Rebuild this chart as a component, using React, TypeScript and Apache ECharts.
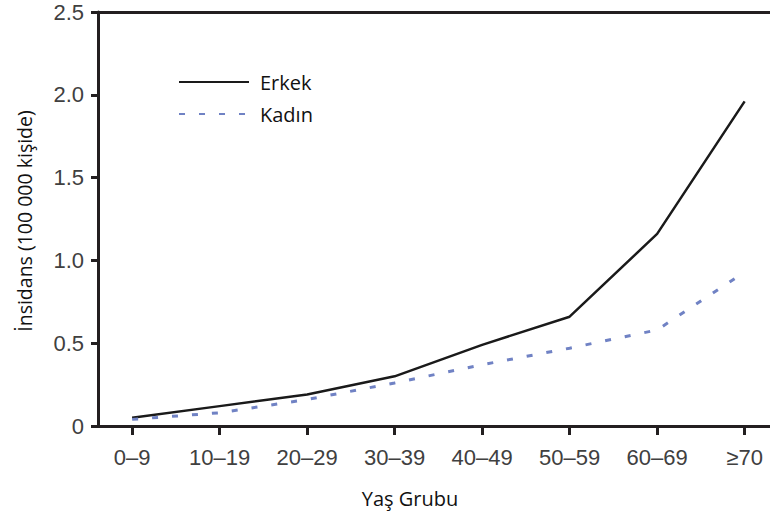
import React, { useEffect, useRef } from "react";
import * as echarts from "echarts";

const categories = ["0–9", "10–19", "20–29", "30–39", "40–49", "50–59", "60–69", "≥70"];
const erkek = [0.05, 0.12, 0.19, 0.3, 0.49, 0.66, 1.16, 1.96];
const kadin = [0.04, 0.08, 0.16, 0.26, 0.37, 0.47, 0.58, 0.93];
const yTicks = [0, 0.5, 1.0, 1.5, 2.0, 2.5];

export default function App() {
  const ref = useRef<HTMLDivElement>(null);
  useEffect(() => {
    if (!ref.current) return;
    const chart = echarts.init(ref.current, undefined, { renderer: "svg" });
    const axisColor = "#231f20";
    const labelColor = "#404040";
    const idx = categories.map((_, i) => i);
    chart.setOption({
      animation: false,
      backgroundColor: "#ffffff",
      grid: { left: 98, right: 0, top: 12, bottom: 92, containLabel: false },
      legend: {
        orient: "vertical",
        left: 173,
        top: 67,
        itemWidth: 70,
        itemHeight: 14,
        itemGap: 12,
        itemStyle: { opacity: 0 },
        textStyle: { fontFamily: "Open Sans", fontSize: 20, color: "#111", padding: [0, 0, 0, 6] },
        data: ["Erkek", "Kadın"],
      },
      xAxis: [
        {
          type: "value",
          min: -0.39,
          max: 7.29,
          splitLine: { show: false },
          axisLine: { show: true, onZero: false, lineStyle: { color: axisColor, width: 3 } },
          axisTick: { show: true, customValues: idx, length: 9, lineStyle: { color: axisColor, width: 3 } },
          axisLabel: {
            customValues: idx,
            formatter: (v: number) => categories[Math.round(v)] ?? "",
            fontFamily: "Liberation Sans",
            fontSize: 22,
            color: labelColor,
            margin: 20,
          },
        },
        {
          type: "value",
          position: "top",
          min: -0.39,
          max: 7.29,
          splitLine: { show: false },
          axisLine: { show: true, onZero: false, lineStyle: { color: axisColor, width: 3 } },
          axisTick: { show: false },
          axisLabel: { show: false },
        },
      ],
      yAxis: {
        type: "value",
        min: 0,
        max: 2.5,
        interval: 0.5,
        splitLine: { show: false },
        axisLine: { show: true, onZero: false, lineStyle: { color: axisColor, width: 3 } },
        axisTick: { show: true, length: 7, lineStyle: { color: axisColor, width: 3 } },
        axisLabel: {
          formatter: (v: number) => (v === 0 ? "0" : yTicks.includes(v) ? v.toFixed(1) : ""),
          fontFamily: "Liberation Sans",
          fontSize: 22,
          color: labelColor,
          margin: 14,
        },
      },
      graphic: [
        {
          type: "text",
          x: 24,
          y: 221,
          rotation: Math.PI / 2,
          style: {
            text: "İnsidans (100 000 kişide)",
            fontFamily: "Open Sans",
            fontSize: 19.5,
            fill: "#111",
            textAlign: "center",
            textVerticalAlign: "middle",
          },
        },
        {
          type: "text",
          x: 410,
          y: 498,
          style: {
            text: "Yaş Grubu",
            fontFamily: "Open Sans",
            fontSize: 20,
            fill: "#111",
            textAlign: "center",
            textVerticalAlign: "middle",
          },
        },
      ],
      series: [
        {
          name: "Erkek",
          type: "line",
          symbol: "none",
          data: erkek.map((v, i) => [i, v]),
          lineStyle: { color: "#1a1a1a", width: 2.5 },
          itemStyle: { color: "#1a1a1a" },
        },
        {
          name: "Kadın",
          type: "line",
          symbol: "none",
          data: kadin.map((v, i) => [i, v]),
          lineStyle: { color: "#7082c4", width: 3, type: [6, 14] },
          itemStyle: { color: "#7082c4" },
        },
      ],
    });
    return () => chart.dispose();
  }, []);
  return <div ref={ref} style={{ width: 770, height: 518, position: "fixed", left: 0, top: 0 }} />;
}
